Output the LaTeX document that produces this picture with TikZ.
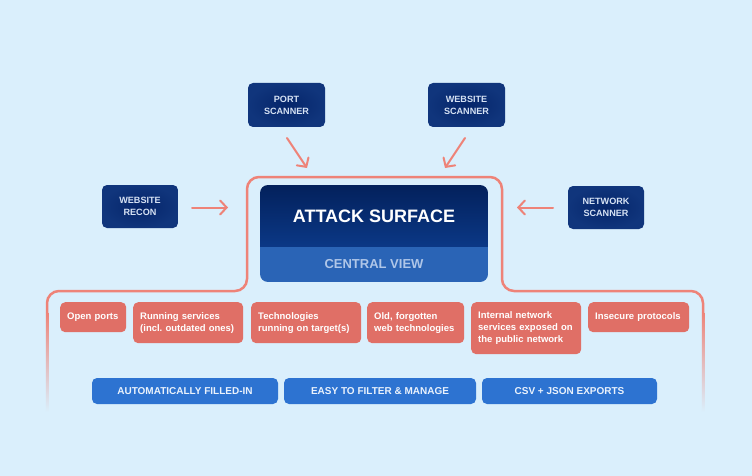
\documentclass[tikz,border=0pt]{standalone}
\usepackage{fontspec}
\setmainfont{Liberation Sans}
\usetikzlibrary{arrows.meta}
\definecolor{bg}{HTML}{DAEFFC}
\definecolor{salmon}{HTML}{EE8378}
\definecolor{itemred}{HTML}{E06F66}
\definecolor{navyin}{HTML}{05256A}
\definecolor{navyout}{HTML}{10357C}
\definecolor{srctext}{HTML}{D6E2F4}
\definecolor{centop}{HTML}{03215C}
\definecolor{cenbot}{HTML}{0B3886}
\definecolor{viewblue}{HTML}{2A64B6}
\definecolor{viewtext}{HTML}{AFC6E8}
\definecolor{btnblue}{HTML}{2D73D1}
\definecolor{btntext}{HTML}{EAF2FC}
\tikzset{
  srcbox/.style={shade, inner color=navyin, outer color=navyout, rounded corners=5pt,
    minimum width=77pt, minimum height=44pt, text=srctext, align=center,
    font=\fontsize{9.1}{12}\selectfont\bfseries, inner sep=0pt},
  itembox/.style={fill=itemred, rounded corners=5pt, text=white, align=left,
    anchor=north west, inner xsep=7pt, inner ysep=0pt,
    font=\fontsize{9.5}{12}\selectfont\bfseries\frenchspacing},
  btnbox/.style={fill=btnblue, rounded corners=5pt, text=btntext, minimum height=26pt,
    font=\fontsize{10}{12}\selectfont\bfseries, inner sep=0pt},
  arr/.style={draw=salmon, line width=2pt, line cap=round,
    -{Straight Barb[length=6.5pt,width=14pt,line cap=round]}},
  outline/.style={draw=salmon, line width=2.5pt}
}
\begin{document}
\begin{tikzpicture}[x=1pt,y=-1pt]
\fill[bg] (0,0) rectangle (752,476);
\useasboundingbox (0,0) rectangle (752,476);

% outline
\draw[outline, rounded corners=12pt] (47,312) -- (47,291) -- (247,291) -- (247,177)
  -- (502,177) -- (502,291) -- (703,291) -- (703,312);
\shade[top color=salmon, bottom color=bg] (45.75,312) rectangle (48.25,412);
\shade[top color=salmon, bottom color=bg] (701.75,312) rectangle (704.25,412);

% central box
\begin{scope}
  \clip[rounded corners=8pt] (260,185) rectangle (488,282);
  \shade[top color=centop, bottom color=cenbot] (260,185) rectangle (488,247);
  \fill[viewblue] (260,247) rectangle (488,282);
\end{scope}
\node[text=white, font=\fontsize{18}{20}\selectfont\bfseries] (attack) at (374,216.5) {ATTACK SURFACE};
\node[text=viewtext, font=\fontsize{13}{14}\selectfont\bfseries] (view) at (374,264.5) {CENTRAL VIEW};

% sources
\node[srcbox] (port) at (286.5,105) {PORT\\SCANNER};
\node[srcbox] (webscan) at (466.5,105) {WEBSITE\\SCANNER};
\node[srcbox, minimum width=76pt, minimum height=43pt] (recon) at (140,206.5) {WEBSITE\\RECON};
\node[srcbox, minimum width=76pt, minimum height=43pt] (netscan) at (606,207.5) {NETWORK\\SCANNER};

% arrows
\coordinate (a1s) at (287,138); \coordinate (a1e) at (307,168);
\coordinate (a2s) at (465,138); \coordinate (a2e) at (445,168);
\coordinate (a3s) at (192,207.5); \coordinate (a3e) at (228,207.5);
\coordinate (a4s) at (553,207.5); \coordinate (a4e) at (517,207.5);
\draw[arr] (a1s) -- (a1e);
\draw[arr] (a2s) -- (a2e);
\draw[arr] (a3s) -- (a3e);
\draw[arr] (a4s) -- (a4e);

% items
\node[itembox, text width=52pt, minimum height=30pt] (i1) at (60,302) {Open ports};
\node[itembox, text width=96pt, minimum height=41pt] (i2) at (133,302) {Running services\\(incl. outdated ones)};
\node[itembox, text width=96pt, minimum height=41pt] (i3) at (251,302) {Technologies\\running on target(s)};
\node[itembox, text width=83pt, minimum height=41pt] (i4) at (367,302) {Old, forgotten\\web technologies};
\node[itembox, text width=96pt, minimum height=52pt] (i5) at (471,302) {Internal network\\services exposed on\\the public network};
\node[itembox, text width=87pt, minimum height=30pt] (i6) at (588,302) {Insecure protocols};

% buttons
\node[btnbox, minimum width=186pt] (b1) at (185,391) {AUTOMATICALLY FILLED-IN};
\node[btnbox, minimum width=192pt] (b2) at (380,391) {EASY TO FILTER \& MANAGE};
\node[btnbox, minimum width=175pt] (b3) at (569.5,391) {CSV + JSON EXPORTS};
\end{tikzpicture}
\end{document}
